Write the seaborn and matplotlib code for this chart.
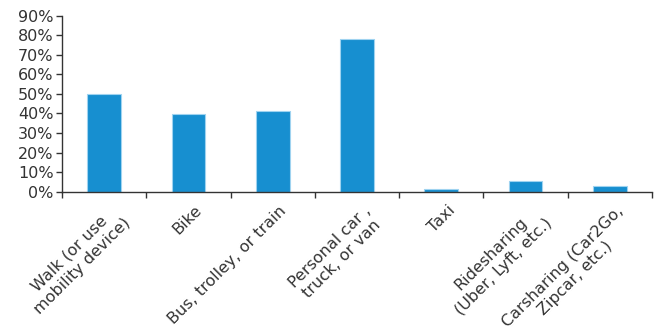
import matplotlib
matplotlib.use("Agg")
import matplotlib.pyplot as plt
import matplotlib.transforms as mtransforms
import seaborn as sns
import pandas as pd
from matplotlib.ticker import PercentFormatter, FixedLocator

categories = [
    "Walk (or use\nmobility device)",
    "Bike",
    "Bus, trolley, or train",
    "Personal car ,\ntruck, or van",
    "Taxi",
    "Ridesharing\n(Uber, Lyft, etc.)",
    "Carsharing (Car2Go,\nZipcar, etc.)",
]
shares = [50, 39.5, 41.5, 78, 1.2, 5.7, 2.8]
y_ticks = [0, 10, 20, 30, 40, 50, 60, 70, 80, 90]

sns.set_theme(style="white")
plt.rcParams["font.family"] = ["DejaVu Sans"]
text_color = "#333333"
font_size = 11.5

df = pd.DataFrame({"mode": categories, "share": shares})

fig = plt.figure(figsize=(6.6, 3.34), dpi=100)
ax = fig.add_axes([62 / 660, 1 - 191.7 / 334, 590 / 660, 176 / 334])

sns.barplot(data=df, x="mode", y="share", color="#178FD0", saturation=1,
            width=0.4, edgecolor="#9fd3f0", linewidth=0.8, ax=ax)

ax.set_ylim(0, 90)
ax.set_xlim(-0.5, len(categories) - 0.5)
ax.yaxis.set_major_locator(FixedLocator(y_ticks))
ax.yaxis.set_major_formatter(PercentFormatter(decimals=0))
ax.tick_params(axis="y", which="major", length=4, width=1, color=text_color,
               labelsize=font_size, labelcolor=text_color, pad=2, left=True)

# category boundaries carry the tick marks, labels sit on the centers
ax.set_xticks([i - 0.5 for i in range(len(categories) + 1)])
ax.set_xticklabels([])
ax.tick_params(axis="x", which="major", length=4, width=1, color=text_color, bottom=True)
ax.set_xticks(range(len(categories)), minor=True)
ax.set_xticklabels(categories, minor=True, rotation=45, ha="right",
                   va="top", rotation_mode="anchor", multialignment="center")
ax.tick_params(axis="x", which="minor", length=0, labelsize=font_size,
               labelcolor=text_color, pad=8)
for lbl in ax.get_xticklabels(minor=True):
    lbl.set_transform(lbl.get_transform() + mtransforms.ScaledTranslation(6 / 100, 0, fig.dpi_scale_trans))

ax.set_xlabel("")
ax.set_ylabel("")
for side in ["top", "right"]:
    ax.spines[side].set_visible(False)
for side in ["left", "bottom"]:
    ax.spines[side].set_color(text_color)
    ax.spines[side].set_linewidth(1)

fig.savefig("out.png", dpi=100)
